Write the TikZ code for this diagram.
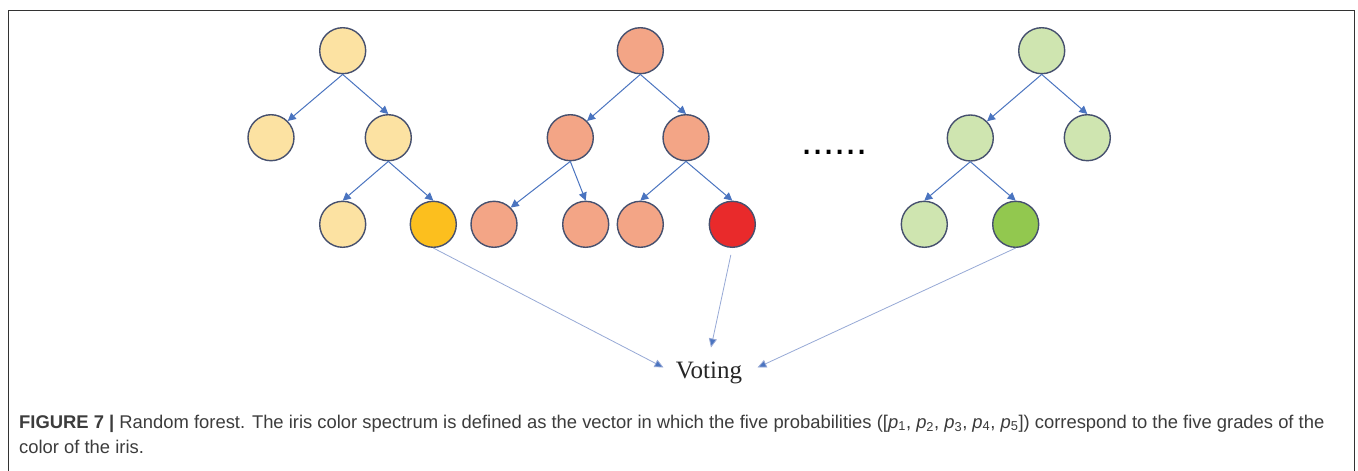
\documentclass[tikz,border=0pt]{standalone}
\usepackage{fontspec}
\setmainfont{Liberation Sans}
\newfontfamily\votingfont{Liberation Serif}
\usetikzlibrary{arrows.meta}
\definecolor{ylight}{HTML}{FCE2A2}
\definecolor{ydark}{HTML}{FCBF1E}
\definecolor{rlight}{HTML}{F3A586}
\definecolor{rdark}{HTML}{E92A2B}
\definecolor{glight}{HTML}{CFE5B0}
\definecolor{gdark}{HTML}{92C84F}
\definecolor{rim}{HTML}{46506E}
\definecolor{edgeblue}{HTML}{4A74C0}
\definecolor{voteline}{HTML}{97A9D6}
\definecolor{capgray}{HTML}{3C3C3C}
\tikzset{
  treenode/.style={circle, minimum size=46pt, inner sep=0pt, draw=rim, line width=1.4pt},
  treeedge/.style={draw=edgeblue, line width=1pt, -{Triangle[length=8pt,width=8pt]}},
  voteedge/.style={draw=voteline, line width=0.8pt, -{Triangle[length=9pt,width=8pt,fill=edgeblue]}},
  frameline/.style={draw=black!80, line width=1pt},
  captext/.style={anchor=base west, inner sep=0pt, text=capgray, font=\fontsize{18.4}{22}\selectfont}
}
\begin{document}
\begin{tikzpicture}[x=1pt,y=-1pt]
\useasboundingbox (0,0) rectangle (1358,471);
\fill[white] (0,0) rectangle (1358,471);
\draw[frameline] (8.5,471) -- (8.5,10.5) -- (1354,10.5) -- (1354,471);

% tree 1
\node[treenode, fill=ylight] (a0) at (342.7,50.7) {};
\node[treenode, fill=ylight] (a1) at (271,137.7) {};
\node[treenode, fill=ylight] (a2) at (388.3,137.7) {};
\node[treenode, fill=ylight] (a3) at (342.7,224.3) {};
\node[treenode, fill=ydark] (a4) at (433.3,224.3) {};
\draw[treeedge] (a0.south) -- (a1.45);
\draw[treeedge] (a0.south) -- (a2.north);
\draw[treeedge] (a2.south) -- (a3.north);
\draw[treeedge] (a2.south) -- (a4.north);

% tree 2
\node[treenode, fill=rlight] (b0) at (640.3,50.7) {};
\node[treenode, fill=rlight] (b1) at (570.3,137.7) {};
\node[treenode, fill=rlight] (b2) at (686,137.7) {};
\node[treenode, fill=rlight] (b3) at (494,224.3) {};
\node[treenode, fill=rlight] (b4) at (585.7,224.3) {};
\node[treenode, fill=rlight] (b5) at (640.3,224.3) {};
\node[treenode, fill=rdark] (b6) at (732.3,224.3) {};
\draw[treeedge] (b0.south) -- (b1.45);
\draw[treeedge] (b0.south) -- (b2.north);
\draw[treeedge] (b1.south) -- (b3.45);
\draw[treeedge] (b1.south) -- (b4.north);
\draw[treeedge] (b2.south) -- (b5.north);
\draw[treeedge] (b2.south) -- (b6.north);

% dots
\node[anchor=base west, inner sep=0pt, font=\fontsize{40}{40}\selectfont] (dots) at (801,154) {......};

% tree 3
\node[treenode, fill=glight] (c0) at (1041.7,50.7) {};
\node[treenode, fill=glight] (c1) at (970.3,138) {};
\node[treenode, fill=glight] (c2) at (1087.3,137.7) {};
\node[treenode, fill=glight] (c3) at (924.3,224.3) {};
\node[treenode, fill=gdark] (c4) at (1015.7,224.3) {};
\draw[treeedge] (c0.south) -- (c1.45);
\draw[treeedge] (c0.south) -- (c2.north);
\draw[treeedge] (c1.south) -- (c3.north);
\draw[treeedge] (c1.south) -- (c4.north);

% voting
\node[anchor=base, inner sep=0pt, font=\votingfont\fontsize{25}{25}\selectfont, text=black!85] (vote) at (709,378.5) {Voting};
\coordinate (vl) at (663.5,367.5);
\coordinate (vt) at (711,347.5);
\coordinate (vr) at (757.5,367.5);
\draw[voteedge] (a4.south) -- (vl);
\draw[voteedge, shorten <=7pt] (b6.south) -- (vt);
\draw[voteedge] (c4.south) -- (vr);

% caption
\node[captext] (cap1) at (19,428) {\textbf{FIGURE 7 |} Random forest. The iris color spectrum is defined as the vector in which the five probabilities ([\textit{p}\textsubscript{1}, \textit{p}\textsubscript{2}, \textit{p}\textsubscript{3}, \textit{p}\textsubscript{4}, \textit{p}\textsubscript{5}]) correspond to the five grades of the};
\node[captext] (cap2) at (19,453) {color of the iris.};
\end{tikzpicture}
\end{document}
